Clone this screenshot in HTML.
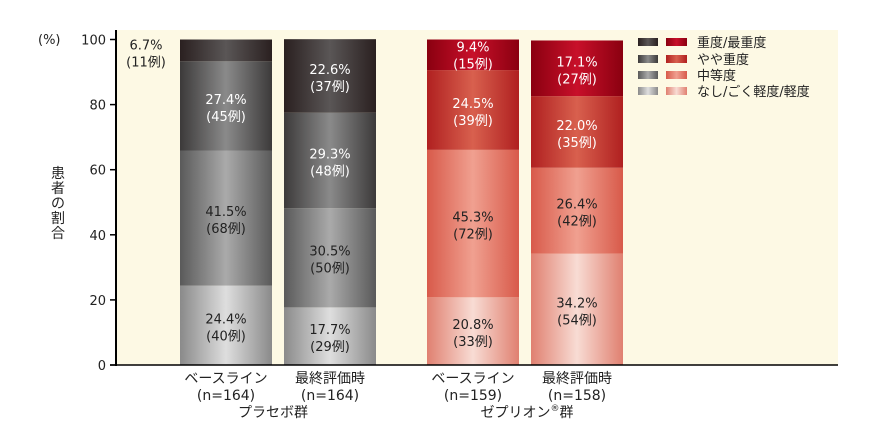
<!DOCTYPE html>
<html><head><meta charset="utf-8"><style>
body{margin:0;background:#fff;}
svg text{font-family:"DejaVu Sans","Noto Sans CJK JP",sans-serif;}
</style></head><body>
<svg width="880" height="430" viewBox="0 0 880 430" xmlns="http://www.w3.org/2000/svg">
<defs>
<linearGradient id="g0" x1="0" x2="1"><stop offset="0" stop-color="#2a2020"/><stop offset="0.5" stop-color="#5a5656"/><stop offset="1" stop-color="#2a2020"/></linearGradient>
<linearGradient id="g1" x1="0" x2="1"><stop offset="0" stop-color="#3c3a3a"/><stop offset="0.5" stop-color="#8a8a8a"/><stop offset="1" stop-color="#3c3a3a"/></linearGradient>
<linearGradient id="g2" x1="0" x2="1"><stop offset="0" stop-color="#5a5a5a"/><stop offset="0.5" stop-color="#aaaaaa"/><stop offset="1" stop-color="#5a5a5a"/></linearGradient>
<linearGradient id="g3" x1="0" x2="1"><stop offset="0" stop-color="#8a8a8a"/><stop offset="0.5" stop-color="#dedede"/><stop offset="1" stop-color="#8a8a8a"/></linearGradient>
<linearGradient id="r0" x1="0" x2="1"><stop offset="0" stop-color="#8a0010"/><stop offset="0.5" stop-color="#c8102a"/><stop offset="1" stop-color="#8a0010"/></linearGradient>
<linearGradient id="r1" x1="0" x2="1"><stop offset="0" stop-color="#b02020"/><stop offset="0.5" stop-color="#d8604e"/><stop offset="1" stop-color="#b02020"/></linearGradient>
<linearGradient id="r2" x1="0" x2="1"><stop offset="0" stop-color="#d85a4a"/><stop offset="0.5" stop-color="#f0a090"/><stop offset="1" stop-color="#d85a4a"/></linearGradient>
<linearGradient id="r3" x1="0" x2="1"><stop offset="0" stop-color="#e08070"/><stop offset="0.5" stop-color="#f8dcd4"/><stop offset="1" stop-color="#e08070"/></linearGradient>
</defs>
<rect x="116" y="30" width="722" height="335" fill="#fdf9e4"/>
<g id="bars"></g>
<g id="axes"></g>
<text font-size="14" fill="#222" text-anchor="middle"><tspan x="58" y="178">患</tspan><tspan x="58" y="193">者</tspan><tspan x="58" y="208">の</tspan><tspan x="58" y="223">割</tspan><tspan x="58" y="238">合</tspan></text>
<text x="38" y="44" font-size="13" fill="#222">(%)</text>
<g font-size="13" fill="#222">
<rect x="638" y="38" width="20" height="8" fill="url(#g0)"/><rect x="666" y="38" width="21" height="8" fill="url(#r0)"/><text x="697" y="47">重度/最重度</text>
<rect x="638" y="55" width="20" height="8" fill="url(#g1)"/><rect x="666" y="55" width="21" height="8" fill="url(#r1)"/><text x="697" y="64">やや重度</text>
<rect x="638" y="71" width="20" height="8" fill="url(#g2)"/><rect x="666" y="71" width="21" height="8" fill="url(#r2)"/><text x="697" y="80">中等度</text>
<rect x="638" y="87" width="20" height="8" fill="url(#g3)"/><rect x="666" y="87" width="21" height="8" fill="url(#r3)"/><text x="697" y="96">なし/ごく軽度/軽度</text>
</g>
<g font-size="14" fill="#222" text-anchor="middle">
<text x="273" y="417">プラセボ群</text>
<text x="527" y="417">ゼプリオン<tspan font-size="9" dy="-6">®</tspan><tspan dy="6">群</tspan></text>
</g>
</svg>
<script>
const categories = ["ベースライン","最終評価時","ベースライン","最終評価時"];
const nLabels = ["(n=164)","(n=164)","(n=159)","(n=158)"];
// bottom to top: mild, moderate, moderately severe, severe
const mildPct = [24.4, 17.7, 20.8, 34.2];
const moderatePct = [41.5, 30.5, 45.3, 26.4];
const modSeverePct = [27.4, 29.3, 24.5, 22.0];
const severePct = [6.7, 22.6, 9.4, 17.1];
const mildN = [40, 29, 33, 54];
const moderateN = [68, 50, 72, 42];
const modSevereN = [45, 48, 39, 35];
const severeN = [11, 37, 15, 27];
const yTicks = [0, 20, 40, 60, 80, 100];

const NS = "http://www.w3.org/2000/svg";
const y0 = 365, y100 = 39.5;
const yScale = v => y0 - (y0 - y100) * v / 100;
const barX = [180, 284, 427, 531], barW = 92;
const xOf = i => barX[i];
function mk(tag, attrs, parent){const e=document.createElementNS(NS,tag);for(const k in attrs)e.setAttribute(k,attrs[k]);parent.appendChild(e);return e;}
const bars = document.getElementById('bars');
const axes = document.getElementById('axes');
const layers = [mildPct, moderatePct, modSeverePct, severePct];
const layerN = [mildN, moderateN, modSevereN, severeN];
const layerNames = ["mild","moderate","moderately-severe","severe"];
for (let i = 0; i < categories.length; i++) {
  const red = i >= 2;
  let cum = 0;
  for (let l = 0; l < 4; l++) {
    const v = layers[l][i];
    const yt = yScale(cum + v), yb = yScale(cum);
    const r = mk('rect', {x: xOf(i), y: yt, width: barW, height: yb - yt, fill: 'url(#' + (red ? 'r' : 'g') + (3 - l) + ')'}, bars);
    
    
    const white = l >= 2;
    let tx = xOf(i) + barW / 2, ty = (yt + yb) / 2 - 2;
    let outside = (i === 0 && l === 3);
    if (outside) { tx = xOf(i) - 34; ty = yt + 10; }
    if (i === 2 && l === 3) ty = yt + 12;
    const t = mk('text', {x: tx, y: ty, 'font-size': 13, 'text-anchor': 'middle', fill: outside ? '#222' : (white ? '#fff' : '#222')}, bars);
    
    
    mk('tspan', {x: tx, dy: 0}, t).textContent = v.toFixed(1) + '%';
    mk('tspan', {x: tx, dy: 17}, t).textContent = '(' + layerN[l][i] + '例)';
    cum += v;
  }
  const cl = mk('text', {x: xOf(i) + barW / 2, y: 383, 'font-size': 14, 'text-anchor': 'middle', fill: '#222'}, axes);
  
  
  mk('tspan', {x: xOf(i) + barW / 2, dy: 0}, cl).textContent = categories[i];
  mk('tspan', {x: xOf(i) + barW / 2, dy: 17}, cl).textContent = nLabels[i];
}
const ya = mk('line', {x1: 116, y1: 30, x2: 116, y2: y0 + 1, stroke: '#000', 'stroke-width': 2}, axes);


const xa = mk('line', {x1: 110, y1: y0, x2: 838, y2: y0, stroke: '#000', 'stroke-width': 1.5}, axes);


yTicks.forEach(v => {
  const y = yScale(v);
  const tk = mk('line', {x1: 110, y1: y, x2: 116, y2: y, stroke: '#000', 'stroke-width': 1.5}, axes);
  
  
  const tl = mk('text', {x: 106, y: y + 5, 'font-size': 13, 'text-anchor': 'end', fill: '#222'}, axes);
  
  
  tl.textContent = v;
});
</script>
</body></html>
